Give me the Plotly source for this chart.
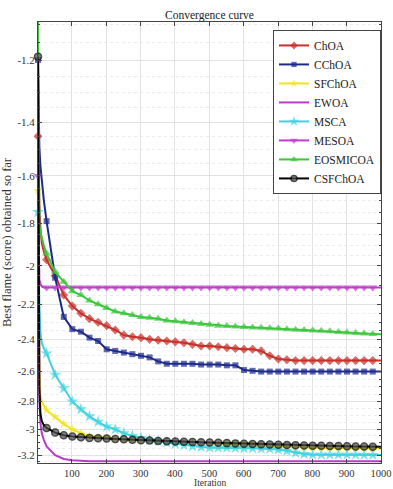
import plotly.graph_objects as go
import numpy as np

# Iterations at which values were read (markers every 25 iterations from 1)
ITER = [1, 3, 5, 8, 12, 18,
        26, 51, 76, 101, 126, 151, 176, 201, 226, 251, 276, 301, 326, 351,
        376, 401, 426, 451, 476, 501, 526, 551, 576, 601, 626, 651, 676, 701,
        726, 751, 776, 801, 826, 851, 876, 901, 926, 951, 976, 1000]

ChOA = [-1.45, -1.60, -1.72, -1.82, -1.89, -1.93,
        -1.97, -2.05, -2.15, -2.21, -2.25, -2.28, -2.30, -2.32, -2.345, -2.375, -2.385, -2.39, -2.40, -2.405,
        -2.41, -2.415, -2.42, -2.43, -2.44, -2.44, -2.445, -2.45, -2.455, -2.46, -2.46, -2.47, -2.50, -2.52,
        -2.525, -2.53, -2.53, -2.53, -2.53, -2.53, -2.53, -2.53, -2.53, -2.53, -2.53, -2.53]

CChOA = [-1.20, -1.40, -1.49, -1.56, -1.62, -1.70,
         -1.79, -2.06, -2.27, -2.34, -2.355, -2.39, -2.41, -2.46, -2.47, -2.48, -2.49, -2.50, -2.51, -2.535,
         -2.55, -2.55, -2.55, -2.55, -2.555, -2.555, -2.555, -2.56, -2.56, -2.59, -2.595, -2.60, -2.60, -2.60,
         -2.60, -2.60, -2.60, -2.60, -2.60, -2.60, -2.60, -2.60, -2.60, -2.60, -2.60, -2.60]

SFChOA = [-1.66, -2.30, -2.60, -2.75, -2.80, -2.83,
          -2.86, -2.91, -2.96, -3.00, -3.03, -3.05, -3.06, -3.065, -3.07, -3.075, -3.078, -3.08, -3.085, -3.09,
          -3.093, -3.096, -3.10, -3.102, -3.105, -3.108, -3.11, -3.113, -3.116, -3.12, -3.123, -3.126, -3.13, -3.132,
          -3.135, -3.137, -3.14, -3.142, -3.143, -3.144, -3.145, -3.145, -3.146, -3.146, -3.147, -3.147]

EWOA = [-1.25, -2.30, -2.80, -2.95, -3.03, -3.08,
        -3.13, -3.20, -3.23, -3.24, -3.245, -3.248, -3.248, -3.248, -3.248, -3.248, -3.248, -3.248, -3.248, -3.248,
        -3.248, -3.248, -3.248, -3.248, -3.248, -3.248, -3.248, -3.248, -3.248, -3.248, -3.248, -3.248, -3.248, -3.248,
        -3.248, -3.248, -3.248, -3.248, -3.248, -3.248, -3.248, -3.248, -3.248, -3.248, -3.248, -3.248]

MSCA = [-1.75, -2.00, -2.20, -2.36, -2.42, -2.455,
        -2.485, -2.62, -2.71, -2.80, -2.855, -2.905, -2.945, -2.98, -3.00, -3.03, -3.05, -3.065, -3.08, -3.09,
        -3.10, -3.11, -3.12, -3.13, -3.135, -3.14, -3.14, -3.14, -3.142, -3.145, -3.145, -3.148, -3.15, -3.155,
        -3.165, -3.18, -3.19, -3.195, -3.195, -3.195, -3.195, -3.195, -3.195, -3.197, -3.197, -3.197]

MESOA = [-1.60, -2.05, -2.07, -2.09, -2.105, -2.11,
         -2.11, -2.11, -2.11, -2.11, -2.11, -2.11, -2.11, -2.11, -2.11, -2.11, -2.11, -2.11, -2.11, -2.11,
         -2.11, -2.11, -2.11, -2.11, -2.11, -2.11, -2.11, -2.11, -2.11, -2.11, -2.11, -2.11, -2.11, -2.11,
         -2.11, -2.11, -2.11, -2.11, -2.11, -2.11, -2.11, -2.11, -2.11, -2.11, -2.11, -2.11]

EOSMICOA = [-1.09, -1.75, -1.80, -1.84, -1.87, -1.90,
            -1.94, -2.03, -2.08, -2.13, -2.15, -2.18, -2.20, -2.22, -2.24, -2.25, -2.26, -2.27, -2.275, -2.28,
            -2.29, -2.295, -2.30, -2.305, -2.31, -2.315, -2.32, -2.322, -2.325, -2.327, -2.33, -2.332, -2.335, -2.337,
            -2.34, -2.343, -2.345, -2.348, -2.35, -2.353, -2.356, -2.36, -2.362, -2.365, -2.368, -2.37]

CSFChOA = [-1.19, -2.30, -2.70, -2.88, -2.94, -2.97,
           -2.99, -3.025, -3.045, -3.055, -3.06, -3.065, -3.068, -3.07, -3.073, -3.076, -3.079, -3.082, -3.085, -3.088,
           -3.09, -3.093, -3.095, -3.097, -3.099, -3.10, -3.102, -3.105, -3.107, -3.11, -3.112, -3.114, -3.116, -3.118,
           -3.12, -3.122, -3.124, -3.125, -3.126, -3.127, -3.128, -3.13, -3.131, -3.132, -3.133, -3.133]

Y_TICKS = [-1.2, -1.4, -1.6, -1.8, -2.0, -2.2, -2.4, -2.6, -2.8, -3.0, -3.2]
Y_TICK_TEXT = ["-1.2", "-1.4", "-1.6", "-1.8", "-2", "-2.2", "-2.4", "-2.6", "-2.8", "-3", "-3.2"]
X_TICKS = [100, 200, 300, 400, 500, 600, 700, 800, 900, 1000]

FONT = "Liberation Serif"

series = [
    ("ChOA", ChOA, "#c8302a", "diamond", 7),
    ("CChOA", CChOA, "#1c2a8c", "square", 6),
    ("SFChOA", SFChOA, "#f2e41c", "star", 7),
    ("EWOA", EWOA, "#b83cc8", None, 0),
    ("MSCA", MSCA, "#3fd3df", "star", 9),
    ("MESOA", MESOA, "#c23ccc", "triangle-down", 8),
    ("EOSMICOA", EOSMICOA, "#3cc63c", "triangle-up", 8),
    ("CSFChOA", CSFChOA, "#000000", "circle", 7),
]

fig = go.Figure()
for name, vals, color, sym, ms in series:
    y = [-v for v in vals]  # MATLAB-style log axis on negative values
    if sym is None:
        fig.add_trace(go.Scatter(x=ITER, y=y, name=name, mode="lines",
                                 line=dict(color=color, width=2), cliponaxis=False))
    else:
        sizes = [ms if (it - 1) % 25 == 0 and it < 1000 else 0 for it in ITER]
        mcolor = "#555555" if name == "CSFChOA" else color
        fig.add_trace(go.Scatter(
            x=ITER, y=y, name=name, mode="lines+markers",
            line=dict(color=color, width=2),
            marker=dict(symbol=sym, size=sizes, color=mcolor,
                        line=dict(color=color, width=1.5 if name == "CSFChOA" else 0)),
            cliponaxis=False))

minor_vals = [round(1.10 + 0.05 * k, 2) for k in range(0, 44)]
minor_vals = [m for m in minor_vals if abs(round(m * 5) - m * 5) > 1e-6 and m <= 3.26]

axis_common = dict(
    showline=True, linecolor="#444444", linewidth=1, mirror="ticks",
    ticks="inside", ticklen=4, tickcolor="#444444",
    showgrid=True, gridcolor="#e2e2e2", gridwidth=1, zeroline=False,
)

fig.update_xaxes(range=[1, 1000], tickmode="array", tickvals=X_TICKS, ticklabelstandoff=0,
                 tickfont=dict(family=FONT, size=10.5, color="#333333"),
                 **axis_common)
fig.update_yaxes(type="log", range=[np.log10(3.262), np.log10(1.092)],
                 tickmode="array", tickvals=[-t for t in Y_TICKS], ticktext=Y_TICK_TEXT,
                 tickfont=dict(family=FONT, size=11, color="#333333"),
                 minor=dict(tickmode="array", tickvals=minor_vals, ticks="inside", ticklen=2,
                            tickcolor="#444444", showgrid=True, gridcolor="#ececec", griddash="dot"),
                 title=dict(text="Best flame (score) obtained so far",
                            font=dict(family=FONT, size=12.5, color="#333333"), standoff=7),
                 **axis_common)

fig.add_annotation(text="Iteration", xref="paper", yref="paper", x=0.5, y=-0.0585,
                   xanchor="center", yanchor="bottom", showarrow=False, borderpad=0,
                   font=dict(family=FONT, size=9.5, color="#333333"))

fig.update_layout(
    width=393, height=489, template="none",
    margin=dict(l=38, r=12, t=22, b=26, autoexpand=False),
    plot_bgcolor="white", paper_bgcolor="white",
    title=dict(text="Convergence curve", x=0.5, xref="paper", y=1 - 15 / 489, yref="container",
               xanchor="center", yanchor="middle", font=dict(family=FONT, size=11.5, color="#222222")),
    legend=dict(x=1, xanchor="right", y=0.982, yanchor="top", bgcolor="white",
                bordercolor="#444444", borderwidth=1, itemwidth=30, tracegroupgap=0,
                font=dict(family=FONT, size=11.5, color="#222222")),
    showlegend=True,
)

fig.write_html("out.html")
